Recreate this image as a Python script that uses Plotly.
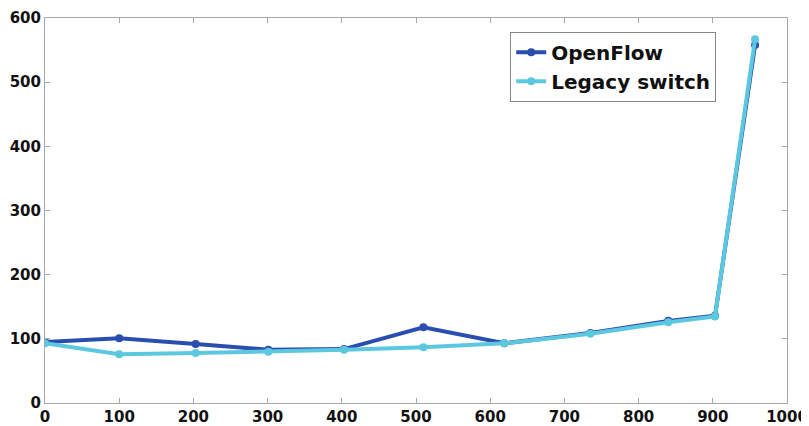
import plotly.graph_objects as go

x_vals = [0, 100, 203, 301, 403, 510, 619, 735, 840, 903, 957]
openflow = [95, 101, 92, 83, 84, 118, 93, 109, 128, 136, 558]
legacy = [93, 76, 78, 80, 83, 87, 93, 108, 126, 135, 567]
x_ticks = [0, 100, 200, 300, 400, 500, 600, 700, 800, 900, 1000]
y_ticks = [0, 100, 200, 300, 400, 500, 600]

fig = go.Figure()
fig.add_trace(go.Scatter(x=x_vals, y=openflow, name="OpenFlow", mode="lines+markers",
                         line=dict(color="#2A4DB0", width=4), marker=dict(size=8, color="#2A4DB0")))
fig.add_trace(go.Scatter(x=x_vals, y=legacy, name="Legacy switch", mode="lines+markers",
                         line=dict(color="#5CC8E0", width=4), marker=dict(size=8, color="#5CC8E0")))

axis_common = dict(showgrid=False, zeroline=False, showline=True, linecolor="#A8A8A8", linewidth=1,
                   mirror="ticks", ticks="inside", ticklen=5, tickcolor="#A8A8A8", automargin=False,
                   tickfont=dict(family="DejaVu Sans", size=15, color="#111111", weight="bold"))
fig.update_xaxes(range=[0, 1000], tickvals=x_ticks, **axis_common)
fig.update_yaxes(range=[0, 600], tickvals=y_ticks, **axis_common)

fig.update_layout(
    width=801, height=418,
    margin=dict(l=37, r=22, t=10, b=23),
    plot_bgcolor="white", paper_bgcolor="white",
    legend=dict(x=0.627, y=0.964, xanchor="left", yanchor="top",
                bgcolor="white", bordercolor="#888888", borderwidth=1,
                font=dict(family="DejaVu Sans", size=20, color="#111111", weight="bold"),
                itemwidth=30, tracegroupgap=0),
    showlegend=True,
)
fig.write_html("out.html")
